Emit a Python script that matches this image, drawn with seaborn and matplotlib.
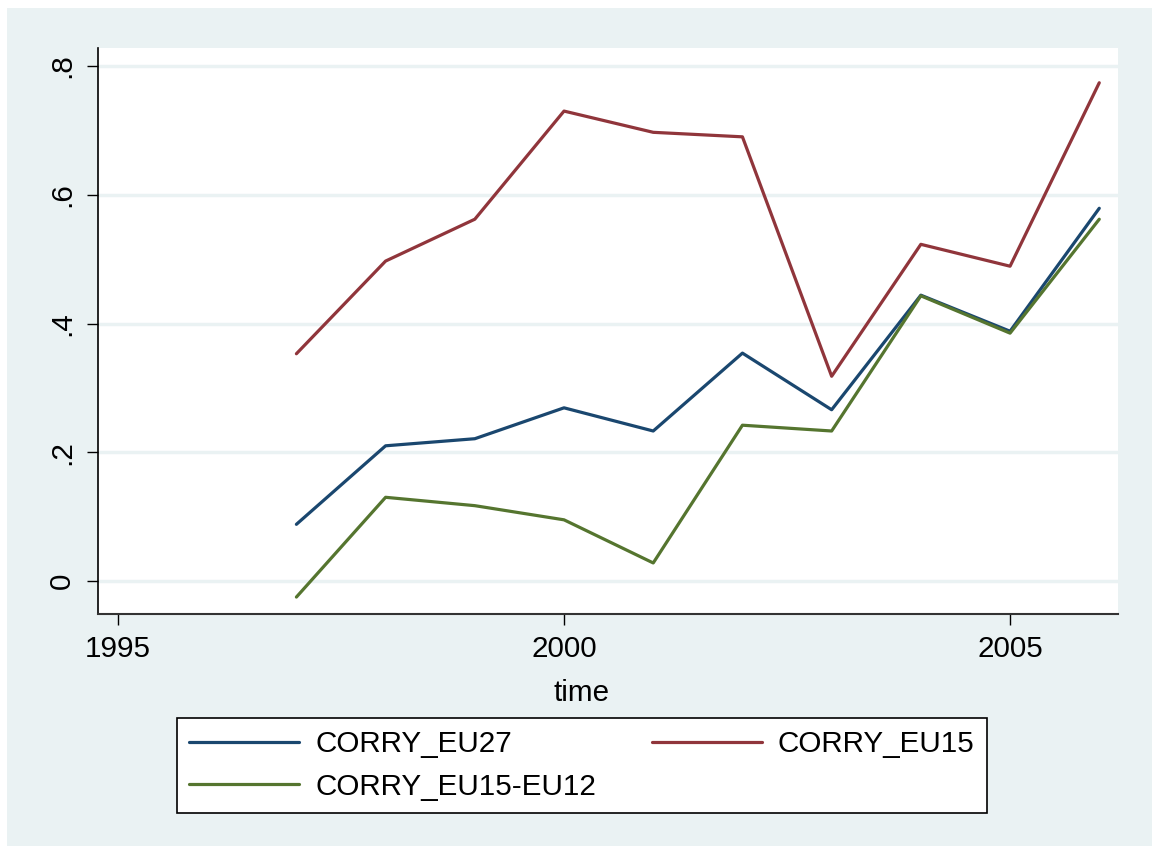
import numpy as np
import pandas as pd
import matplotlib
matplotlib.use("Agg")
import matplotlib.pyplot as plt
import seaborn as sns
from matplotlib.patches import Rectangle

years = [1997, 1998, 1999, 2000, 2001, 2002, 2003, 2004, 2005, 2006]
corry_eu27 = [0.088, 0.210, 0.221, 0.269, 0.233, 0.354, 0.266, 0.444, 0.388, 0.579]
corry_eu15 = [0.353, 0.497, 0.562, 0.730, 0.697, 0.690, 0.318, 0.523, 0.489, 0.774]
corry_eu15_eu12 = [-0.025, 0.130, 0.117, 0.095, 0.028, 0.242, 0.233, 0.443, 0.385, 0.562]
series_names = ["CORRY_EU27", "CORRY_EU15", "CORRY_EU15-EU12"]
colors = ["#1A476F", "#90353B", "#55752F"]
xticks = [1995, 2000, 2005]
yticks = [0, 0.2, 0.4, 0.6, 0.8]
ytick_labels = ["0", ".2", ".4", ".6", ".8"]

df = pd.DataFrame({
    "time": years * 3,
    "value": corry_eu27 + corry_eu15 + corry_eu15_eu12,
    "series": [series_names[0]] * len(years) + [series_names[1]] * len(years) + [series_names[2]] * len(years),
})

sns.set_style("white")
plt.rcParams["font.family"] = ["Liberation Sans", "DejaVu Sans"]
plt.rcParams["text.color"] = "black"
plt.rcParams["axes.labelcolor"] = "black"
plt.rcParams["xtick.color"] = "black"
plt.rcParams["ytick.color"] = "black"
FS = 21.3
BG = "#EAF2F3"

fig = plt.figure(figsize=(11.52, 8.46), dpi=100, facecolor="white")
fig.patches.append(Rectangle((7 / 1152, 0), 1 - 7 / 1152, (846 - 8) / 846,
                             transform=fig.transFigure, facecolor=BG, edgecolor="none", zorder=-10))
ax = fig.add_axes([98 / 1152, (846 - 614) / 846, (1118 - 98) / 1152, (614 - 48) / 846])
ax.set_zorder(1)
ax.set_facecolor("white")

sns.lineplot(data=df, x="time", y="value", hue="series", hue_order=series_names,
             palette=colors, linewidth=2.3, ax=ax, legend=True)

ax.set_xlim(1994.776, 2006.21)
ax.set_ylim(-0.0513, 0.828)
ax.set_xticks(xticks)
ax.set_xticklabels([str(x) for x in xticks], fontsize=FS)
ax.set_yticks(yticks)
ax.set_yticklabels(ytick_labels, fontsize=FS, rotation=90, va="center")
for y in yticks:
    ax.axhline(y, color=BG, linewidth=2.5, zorder=0.5)
ax.tick_params(axis="both", direction="out", length=8, width=1, color="black", left=True, bottom=True)
ax.tick_params(axis="x", pad=7)
ax.tick_params(axis="y", pad=8)
for s in ["top", "right"]:
    ax.spines[s].set_visible(False)
ax.spines["left"].set_color("black")
ax.spines["left"].set_linewidth(1.2)
ax.spines["bottom"].set_color("#333333")
ax.spines["bottom"].set_linewidth(1.5)
ax.set_xlabel("time", fontsize=FS, labelpad=12)
ax.xaxis.set_label_coords((582 - 98) / 1020, -0.115)
ax.set_ylabel("")

handles, labels = ax.get_legend_handles_labels()
ax.get_legend().remove()
hmap = dict(zip(labels, handles))
order = ["CORRY_EU27", "CORRY_EU15-EU12", "CORRY_EU15"]
leg = fig.legend([hmap[k] for k in order], order, loc="upper left",
                 bbox_to_anchor=(177 / 1152, (846 - 718) / 846, 810 / 1152, 0.0),
                 mode="expand", ncol=2, fontsize=FS, frameon=True, fancybox=False,
                 handlelength=3.7, handletextpad=0.55, labelspacing=0.48, borderpad=0.42,
                 borderaxespad=0.0, columnspacing=1.0)
leg.get_frame().set_edgecolor("black")
leg.get_frame().set_linewidth(1.2)
leg.get_frame().set_facecolor("white")
leg.get_frame().set_alpha(1)
for t in leg.get_texts():
    t.set_color("black")

fig.savefig("out.png", dpi=100, facecolor=fig.get_facecolor())
